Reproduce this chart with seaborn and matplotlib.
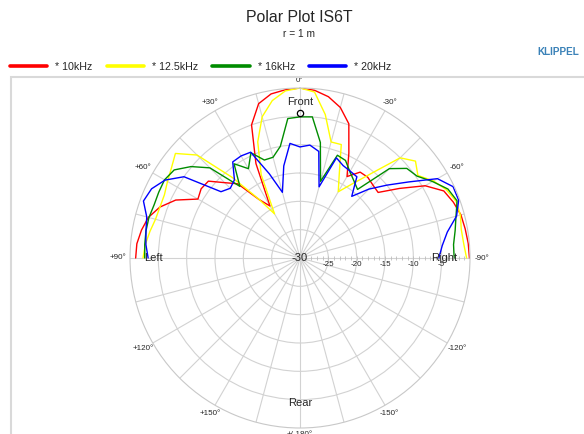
import numpy as np
import pandas as pd
import matplotlib
matplotlib.use('Agg')
import matplotlib.pyplot as plt
import matplotlib.transforms as mtransforms
from matplotlib.lines import Line2D
from matplotlib.patches import Rectangle
import seaborn as sns

# measurement angles (deg, + = left, - = right)
angles = [-90, -85, -80, -75, -70, -65, -60, -55, -50, -45, -40, -35, -30,
          -25, -20, -15, -10, -5, 0, 5, 10, 15, 20, 25, 30, 35, 40, 45,
          50, 55, 60, 65, 70, 75, 80, 85, 90]

# levels in dB
spl_10k = [-0.1, -0.2, -0.4, -0.6, -1.2, -2.0, -4.5, -8.6, -12.0, -11.8, -11.4, -11.5, -13.4,
           -9.6, -4.8, -2.5, -1.1, -0.3, 0.0, -0.2, -0.6, -1.8, -5.0, -11.6, -19.4, -17.4, -12.9, -11.2,
           -8.9, -8.7, -9.2, -5.8, -3.7, -2.3, -1.6, -1.1, -1.0]
spl_12k5 = [-0.6, -1.0, -1.1, -0.7, -0.7, -1.5, -2.8, -4.6, -3.4, -5.0, -10.6, -14.1, -16.5,
            -13.6, -8.7, -8.8, -4.3, -0.6, 0.0, -0.4, -1.8, -4.2, -8.2, -13.8, -21.0, -17.3, -11.5, -4.3,
            -1.3, -2.3, -3.0, -3.6, -3.7, -3.6, -3.1, -2.6, -2.3]
spl_16k = [-2.8, -2.8, -2.2, -1.5, -0.5, -1.2, -3.0, -4.8, -5.4, -7.7, -14.2, -13.4, -12.4,
           -11.0, -10.7, -16.0, -9.3, -5.0, -5.1, -5.3, -10.0, -11.6, -11.6, -9.5, -11.8, -9.7, -13.5, -7.5,
           -4.9, -2.9, -2.4, -2.5, -2.6, -2.4, -2.4, -2.5, -2.6]
spl_20k = [-5.5, -4.8, -3.6, -1.4, -0.2, -0.2, -2.0, -6.6, -10.0, -12.8, -15.8, -12.5, -12.3,
           -12.0, -11.2, -17.0, -10.9, -10.0, -10.4, -9.7, -13.5, -18.0, -14.2, -9.4, -9.2, -9.3, -12.0, -12.6,
           -11.8, -5.0, -2.5, -1.1, -0.6, -2.0, -2.4, -2.7, -3.2]

freqs = ['* 10kHz', '* 12.5kHz', '* 16kHz', '* 20kHz']
colors = ['#ff0000', '#ffff00', '#008c00', '#0000ff']

rings = [-25, -20, -15, -10, -5]
theta_ticks = [0, 30, 60, 90, 120, 150, 180, -150, -120, -90, -60, -30]
theta_labels = ['0°', '+30°', '+60°', '+90°', '+120°', '+150°', '+/-180°',
                '-150°', '-120°', '-90°', '-60°', '-30°']

sns.set_style('white')
plt.rcParams['font.family'] = ['Liberation Sans', 'DejaVu Sans']

W, H = 584, 434
cx, cy, R = 300, 258, 170
fig = plt.figure(figsize=(W / 100, H / 100), dpi=100)
ax = fig.add_axes([(cx - R) / W, (H - cy - R) / H, 2 * R / W, 2 * R / H], projection='polar')
ax.set_theta_zero_location('N')
ax.set_theta_direction(1)
ax.set_ylim(-30, 0)
ax.set_yticks(rings)
ax.set_yticklabels([])
ax.set_xticks(np.deg2rad(np.arange(0, 360, 15)))
ax.set_xticklabels([])
ax.grid(True, color='#d2d2d2', lw=0.8)
ax.spines['polar'].set_color('#c8c8c8')
ax.spines['polar'].set_linewidth(0.8)

df = pd.concat([
    pd.DataFrame({'theta': np.deg2rad(angles), 'level': vals, 'freq': f})
    for f, vals in zip(freqs, [spl_10k, spl_12k5, spl_16k, spl_20k])
])
sns.lineplot(data=df, x='theta', y='level', hue='freq', palette=colors,
             sort=False, estimator=None, lw=1.0, legend=False, ax=ax)
ax.set_xlabel('')
ax.set_ylabel('')

# small ticks along the right axis
ax.plot(np.full(29, np.deg2rad(-90)), np.arange(-29, 0), ls='none', marker='|',
        ms=3, mew=0.6, color='#bdbdbd')

# angle labels around the rim
for a, lab in zip(theta_ticks, theta_labels):
    r_px = 177 + 5 * abs(np.sin(np.deg2rad(a)))
    ax.text(np.deg2rad(a), -30 + r_px / R * 30, lab, ha='center', va='center',
            fontsize=5.8, clip_on=False)

# dB labels under the right axis
below = mtransforms.offset_copy(ax.transData, fig=fig, x=0, y=-7, units='dots')
for v in rings:
    ax.text(np.deg2rad(-90), v, str(v), transform=below, ha='center', va='center', fontsize=5.8)
ax.text(0, -30, '-30', ha='center', va='center', fontsize=8)

ax.text(0, -2.5, 'Front', ha='center', va='center', fontsize=8)
ax.plot([0], [-4.4], marker='o', ms=4.5, mfc='none', mec='black', mew=0.9)
ax.text(np.pi, -4.4, 'Rear', ha='center', va='center', fontsize=8)
ax.text(np.deg2rad(90), -4.1, 'Left', ha='center', va='center', fontsize=8)
ax.text(np.deg2rad(-90), -4.5, 'Right', ha='center', va='center', fontsize=8)

# header
fig.text(299 / W, 1 - 17 / H, 'Polar Plot IS6T', ha='center', va='center', fontsize=11.4)
fig.text(299 / W, 1 - 34 / H, 'r = 1 m', ha='center', va='center', fontsize=7.3)
fig.text(579 / W, 1 - 52 / H, 'KLIPPEL', ha='right', va='center', fontsize=7.2,
         fontweight='bold', color='#3b82b8')

handles = [Line2D([], [], color=c, lw=2.6) for c in colors]
fig.legend(handles, freqs, loc='center left', bbox_to_anchor=(10 / W, 1 - 66.7 / H),
           ncol=4, frameon=False, fontsize=7.7, handlelength=3.5, handletextpad=0.75,
           columnspacing=1.3, borderpad=0, borderaxespad=0)

# plot frame
fig.add_artist(Rectangle((11 / W, -0.05), 1.0, (H - 77) / H + 0.05, transform=fig.transFigure,
                         fill=False, ec='#d9d9d9', lw=1.5, clip_on=False))

fig.savefig('out.png', dpi=100)
